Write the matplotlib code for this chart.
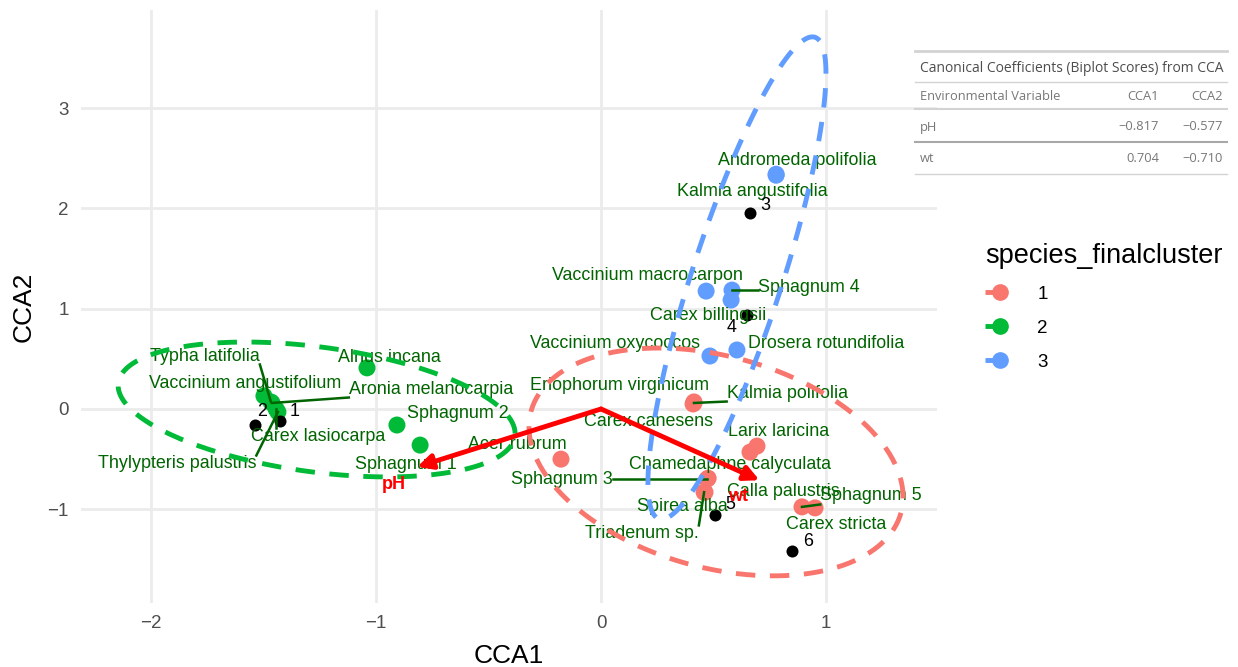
import matplotlib.pyplot as plt
import numpy as np
from matplotlib.lines import Line2D

plt.rcParams['font.family'] = ['Liberation Sans', 'DejaVu Sans']

W, H = 1238, 667

# species scores on CCA1 / CCA2 and their final cluster
species = ['Typha latifolia', 'Vaccinium angustifolium', 'Aronia melanocarpia', 'Carex lasiocarpa',
           'Thylypteris palustris', 'Alnus incana', 'Sphagnum 2', 'Sphagnum 1',
           'Eriophorum virginicum', 'Kalmia polifolia', 'Carex canesens', 'Larix laricina',
           'Calla palustris', 'Acer rubrum', 'Chamedaphne calyculata', 'Sphagnum 3',
           'Spirea alba', 'Triadenum sp.', 'Sphagnum 5', 'Carex stricta',
           'Andromeda polifolia', 'Kalmia angustifolia', 'Vaccinium macrocarpon', 'Sphagnum 4',
           'Carex billingsii', 'Vaccinium oxycoccos', 'Drosera rotundifolia']
sp_cca1 = [-1.467, -1.498, -1.462, -1.444, -1.436, -1.040, -0.907, -0.804,
           0.413, 0.413, 0.409, 0.693, 0.662, -0.178, 0.476, 0.471, 0.462, 0.458, 0.893, 0.951,
           0.778, 0.778, 0.467, 0.582, 0.578, 0.484, 0.604]
sp_cca2 = [0.07, 0.13, 0.06, 0.00, -0.03, 0.41, -0.16, -0.36,
           0.07, 0.06, 0.05, -0.37, -0.43, -0.50, -0.69, -0.70, -0.83, -0.83, -0.976, -0.986,
           2.34, 2.33, 1.175, 1.185, 1.086, 0.528, 0.588]
sp_cluster = [2, 2, 2, 2, 2, 2, 2, 2,
              1, 1, 1, 1, 1, 1, 1, 1, 1, 1, 1, 1,
              3, 3, 3, 3, 3, 3, 3]

# site scores
sites = ['1', '2', '3', '4', '5', '6']
site_cca1 = [-1.427, -1.538, 0.662, 0.649, 0.507, 0.849]
site_cca2 = [-0.12, -0.16, 1.95, 0.936, -1.056, -1.414]

# biplot scores of the environmental variables
env_vars = ['pH', 'wt']
env_cca1 = [-0.817, 0.704]
env_cca2 = [-0.577, -0.710]

# cluster ellipses (centre and shape matrix)
clusters = [1, 2, 3]
cluster_colors = ['#F8766D', '#00BA38', '#619CFF']
ell_center = [(0.511, -0.528), (-1.264, -0.005), (0.604, 1.305)]
ell_shape = [[[0.691, -0.290], [-0.290, 1.289]],
             [[0.778, -0.211], [-0.211, 0.452]],
             [[0.1565, 0.806], [0.806, 5.781]]]

# repelled label positions
label_pos = {
    'Typha latifolia': (-1.760, 0.528), 'Vaccinium angustifolium': (-1.582, 0.249),
    'Alnus incana': (-0.942, 0.518), 'Aronia melanocarpia': (-0.756, 0.199),
    'Sphagnum 2': (-0.636, -0.050), 'Carex lasiocarpa': (-1.258, -0.279),
    'Thylypteris palustris': (-1.884, -0.548), 'Sphagnum 1': (-0.867, -0.558),
    'Eriophorum virginicum': (0.084, 0.239), 'Kalmia polifolia': (0.827, 0.159),
    'Carex canesens': (0.209, -0.120), 'Larix laricina': (0.787, -0.229),
    'Acer rubrum': (-0.373, -0.359), 'Chamedaphne calyculata': (0.573, -0.558),
    'Sphagnum 3': (-0.173, -0.707), 'Calla palustris': (0.809, -0.827),
    'Spirea alba': (0.360, -0.976), 'Triadenum sp.': (0.182, -1.245),
    'Sphagnum 5': (1.200, -0.867), 'Carex stricta': (1.044, -1.155),
    'Andromeda polifolia': (0.871, 2.480), 'Kalmia angustifolia': (0.671, 2.171),
    'Vaccinium macrocarpon': (0.204, 1.335), 'Sphagnum 4': (0.924, 1.215),
    'Carex billingsii': (0.476, 0.936), 'Vaccinium oxycoccos': (0.062, 0.657),
    'Drosera rotundifolia': (1.000, 0.657),
}
with_segment = ['Typha latifolia', 'Aronia melanocarpia', 'Carex lasiocarpa', 'Thylypteris palustris',
                'Kalmia polifolia', 'Sphagnum 3', 'Triadenum sp.', 'Sphagnum 5', 'Sphagnum 4']
site_label_pos = [(-1.36, -0.03), (-1.507, -0.03), (0.729, 2.032), (0.582, 0.817), (0.573, -0.956), (0.920, -1.325)]
env_label_pos = [(-0.92, -0.757), (0.609, -0.877)]

fig = plt.figure(figsize=(W / 100, H / 100), dpi=100)
ax = fig.add_axes([81 / W, 1 - 603 / H, (937 - 81) / W, (603 - 10) / H])
ax.set_xlim(-2.311, 1.493)
ax.set_ylim(-1.934, 3.977)
ax.set_xticks([-2, -1, 0, 1])
ax.set_yticks([-1, 0, 1, 2, 3])
ax.grid(color='#EBEBEB', lw=2.0)
ax.set_axisbelow(True)
for s in ax.spines.values():
    s.set_visible(False)
ax.tick_params(length=0, labelsize=13.5, labelcolor='#4D4D4D', pad=9)
ax.set_xlabel('CCA1', fontsize=19, labelpad=8)
ax.set_ylabel('CCA2', fontsize=19, labelpad=8)

col = {c: k for c, k in zip(clusters, cluster_colors)}
ax.scatter(sp_cca1, sp_cca2, s=150, c=[col[c] for c in sp_cluster], zorder=2, linewidths=0)
ax.scatter(site_cca1, site_cca2, s=75, c='black', zorder=3, linewidths=0)

texts = {}
for name in species:
    lx, ly = label_pos[name]
    texts[name] = ax.text(lx, ly, name, color='darkgreen', fontsize=12.9, ha='center', va='center', zorder=4)
for name, (lx, ly) in zip(sites, site_label_pos):
    ax.text(lx, ly, name, color='black', fontsize=12.9, ha='center', va='center', zorder=4)

t = np.linspace(0, 2 * np.pi, 300)
for c, k, cen, S in zip(clusters, cluster_colors, ell_center, ell_shape):
    L = np.linalg.cholesky(np.array(S))
    pts = (L @ np.vstack([np.cos(t), np.sin(t)])).T + np.array(cen)
    ax.plot(pts[:, 0], pts[:, 1], color=k, lw=3.5, linestyle=(0, (4, 3)), zorder=5)

for x, y in zip(env_cca1, env_cca2):
    ax.annotate('', xy=(x, y), xytext=(0, 0), zorder=6,
                arrowprops=dict(arrowstyle='-|>', color='red', lw=3.5, mutation_scale=22,
                                shrinkA=0, shrinkB=0))
for name, (lx, ly) in zip(env_vars, env_label_pos):
    ax.text(lx, ly, name, color='red', fontsize=13, fontweight='bold', ha='center', va='center', zorder=7)

# segments from point to nearest edge of its label
fig.canvas.draw()
r = fig.canvas.get_renderer()
inv = ax.transData.inverted()
for name, x, y in zip(species, sp_cca1, sp_cca2):
    if name not in with_segment:
        continue
    bb = texts[name].get_window_extent(r)
    px, py = ax.transData.transform((x, y))
    qx = min(max(px, bb.x0), bb.x1)
    qy = min(max(py, bb.y0), bb.y1)
    (ex, ey) = inv.transform((qx, qy))
    ax.plot([x, ex], [y, ey], color='darkgreen', lw=1.8, zorder=3.5)

handles = [Line2D([], [], color=k, marker='o', markersize=11, lw=3.5, linestyle=(0, (4, 3)))
           for k in cluster_colors]
fig.legend(handles, [str(c) for c in clusters], title='species_finalcluster', loc='upper left',
           bbox_to_anchor=(968 / W, 1 - 226 / H), frameon=False, fontsize=13.5, title_fontsize=19.5,
           handlelength=1.6, handletextpad=1.2, labelspacing=0.9, alignment='left')

# table of biplot scores
def fx(p):
    return p / W


def fy(p):
    return 1 - p / H


tf = ['Open Sans', 'DejaVu Sans']
for yy, c, lw in [(51, '#D3D3D3', 2), (82, '#D3D3D3', 1), (109, '#D3D3D3', 1.5), (142, '#A8A8A8', 1.5), (174, '#D3D3D3', 1)]:
    fig.add_artist(Line2D([fx(915), fx(1227)], [fy(yy), fy(yy)], color=c, lw=lw, transform=fig.transFigure))
fig.text(fx(920), fy(68), 'Canonical Coefficients (Biplot Scores) from CCA', family=tf, fontsize=10,
         color='#4D4D4D', va='center', ha='left')
fig.text(fx(920), fy(96), 'Environmental Variable', family=tf, fontsize=9.3, color='#777777', va='center')
fig.text(fx(1159), fy(96), 'CCA1', family=tf, fontsize=9.3, color='#777777', va='center', ha='right')
fig.text(fx(1223), fy(96), 'CCA2', family=tf, fontsize=9.3, color='#777777', va='center', ha='right')
for row, yy in zip(range(len(env_vars)), [127, 159]):
    fig.text(fx(920), fy(yy), env_vars[row], family=tf, fontsize=9.3, color='#777777', va='center')
    fig.text(fx(1159), fy(yy), f'{env_cca1[row]:.3f}'.replace('-', '\u2212'), family=tf, fontsize=9.3,
             color='#777777', va='center', ha='right')
    fig.text(fx(1223), fy(yy), f'{env_cca2[row]:.3f}'.replace('-', '\u2212'), family=tf, fontsize=9.3,
             color='#777777', va='center', ha='right')

fig.savefig('out.png', dpi=100)
